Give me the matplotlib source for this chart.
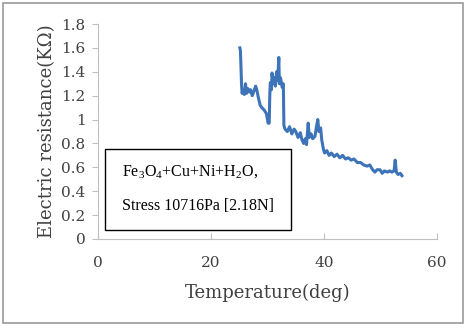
import numpy as np
import matplotlib.pyplot as plt
from matplotlib.patches import Rectangle

plt.rcParams['mathtext.fontset'] = 'custom'
plt.rcParams['mathtext.rm'] = 'Liberation Serif'

# temperature (deg) and resistance (kOhm)
temp = [25.1, 25.2, 25.3, 25.4, 25.5, 25.7, 25.9, 26.1, 26.3, 26.5,
        26.8, 27.0, 27.3, 27.6, 27.9, 28.1, 28.4, 28.7, 29.0, 29.4,
        29.8, 30.0, 30.1, 30.3, 30.4, 30.5, 30.7, 30.8, 31.0, 31.2,
        31.4, 31.6, 31.8, 32.0, 32.1, 32.3, 32.6, 32.8, 32.9, 33.1,
        33.5, 33.9, 34.3, 34.7, 35.0, 35.4, 35.8, 36.1, 36.4, 36.7,
        36.9, 37.2, 37.4, 37.7, 38.0, 38.4, 38.7, 38.9, 39.1, 39.4,
        39.6, 39.9, 40.1, 40.5, 40.9, 41.3, 41.8, 42.3, 42.8, 43.3,
        43.8, 44.3, 44.8, 45.3, 45.9, 46.5, 47.0, 47.6, 48.1, 48.6,
        49.0, 49.4, 49.9, 50.3, 50.7, 51.2, 51.6, 52.0, 52.4, 52.6,
        52.8, 53.1, 53.5, 53.8]
resist = [1.60, 1.58, 1.45, 1.30, 1.22, 1.25, 1.21, 1.30, 1.22, 1.26,
          1.23, 1.25, 1.20, 1.24, 1.28, 1.25, 1.18, 1.12, 1.10, 1.08,
          1.05, 1.00, 0.97, 0.97, 1.20, 1.31, 1.25, 1.39, 1.30, 1.35,
          1.28, 1.40, 1.33, 1.52, 1.30, 1.35, 1.27, 1.30, 0.95, 0.92,
          0.90, 0.94, 0.88, 0.92, 0.90, 0.85, 0.89, 0.83, 0.80, 0.84,
          0.79, 0.97, 0.85, 0.88, 0.84, 0.86, 0.95, 1.00, 0.90, 0.93,
          0.83, 0.75, 0.72, 0.74, 0.70, 0.72, 0.69, 0.71, 0.68, 0.70,
          0.67, 0.68, 0.66, 0.67, 0.64, 0.64, 0.62, 0.61, 0.62, 0.58,
          0.56, 0.58, 0.58, 0.55, 0.57, 0.56, 0.57, 0.56, 0.57, 0.66,
          0.56, 0.54, 0.55, 0.53]

xticks = [0, 20, 40, 60]
yticks = [0, 0.2, 0.4, 0.6, 0.8, 1, 1.2, 1.4, 1.6, 1.8]
yticklabels = ['0', '0.2', '0.4', '0.6', '0.8', '1', '1.2', '1.4', '1.6', '1.8']

fig = plt.figure(figsize=(4.68, 3.29), dpi=100)
ax = fig.add_axes([0.2094, 0.2736, 0.7244, 0.6534])
# outer frame of the chart
fig.patches.append(Rectangle((0.0064, 0.018), 0.983, 0.973, transform=fig.transFigure,
                             fill=False, edgecolor='#9a9a9a', linewidth=1.2))

ax.plot(temp, resist, color='#3d74b9', linewidth=2.2)

ax.set_xlim(0, 60)
ax.set_ylim(0, 1.8)
ax.set_xticks(xticks)
ax.set_yticks(yticks)
ax.set_yticklabels(yticklabels)

for s in ['top', 'right']:
    ax.spines[s].set_visible(False)
for s in ['left', 'bottom']:
    ax.spines[s].set_color('#bfbfbf')
ax.tick_params(axis='y', direction='out', length=4, color='#bfbfbf',
               labelsize=11, labelcolor='#404040', pad=5)
ax.tick_params(axis='x', direction='in', length=4, color='#bfbfbf',
               labelsize=11, labelcolor='#404040', pad=12)
for lab in ax.get_xticklabels() + ax.get_yticklabels():
    lab.set_family('DejaVu Serif')

ax.set_xlabel('Temperature(deg)', family='DejaVu Serif', fontsize=13,
              color='#404040', labelpad=10)
ax.set_ylabel('Electric resistance(K\u03a9)', family='DejaVu Serif', fontsize=13,
              color='#404040', labelpad=4)

# annotation box
ax.add_patch(Rectangle((0.021, 0.042), 0.548, 0.377, transform=ax.transAxes,
                       facecolor='white', edgecolor='black', linewidth=1,
                       zorder=5, clip_on=False))
ax.text(0.071, 0.29, 'Fe$_3$O$_4$+Cu+Ni+H$_2$O,', transform=ax.transAxes,
        family='Liberation Serif', fontsize=11.5, va='baseline', ha='left', zorder=6)
ax.text(0.071, 0.135, 'Stress 10716Pa [2.18N]', transform=ax.transAxes,
        family='Liberation Serif', fontsize=11.5, va='baseline', ha='left', zorder=6)

fig.savefig('out.png', dpi=100)
